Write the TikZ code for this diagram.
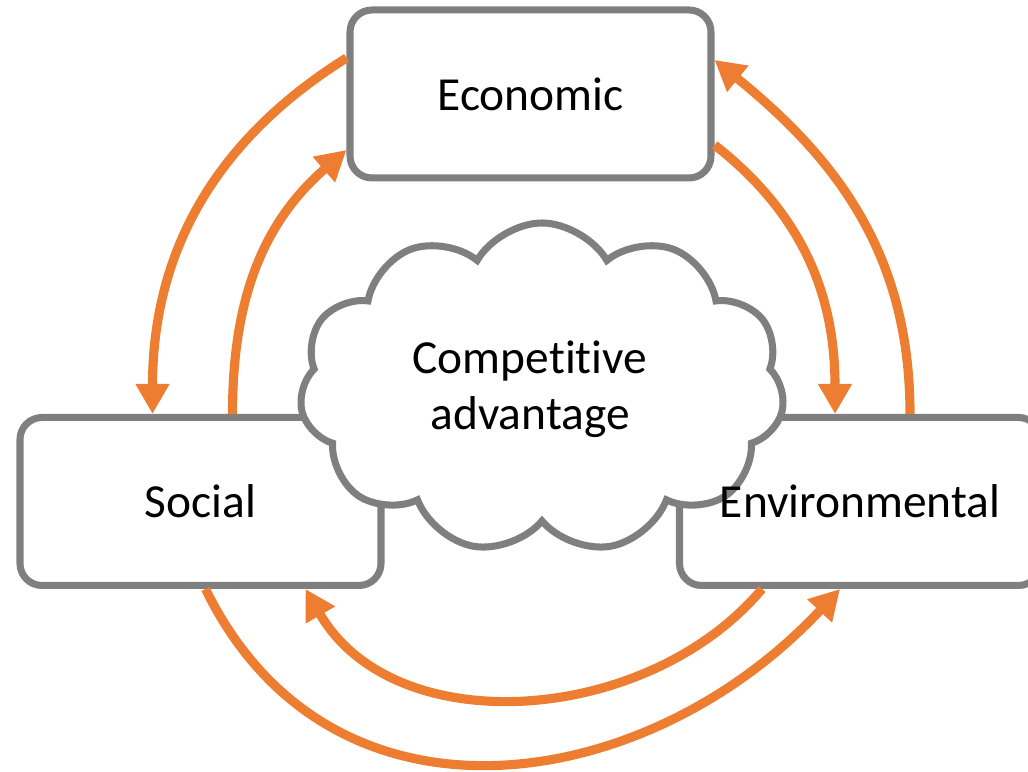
\documentclass[tikz,border=0pt]{standalone}
\usepackage{fontspec}
\setmainfont{Carlito}[Ligatures=NoCommon]
\usetikzlibrary{calc, positioning, arrows.meta, shapes.symbols}
\definecolor{pillargray}{HTML}{7F7F7F}
\definecolor{linkorange}{HTML}{ED7D31}

\begin{document}
\begin{tikzpicture}[>={Triangle[length=0.3cm, width=0.32cm]},
  pillar/.style={draw=pillargray, line width=2pt, rounded corners=0.22cm, fill=white,
    minimum width=3.61cm, minimum height=1.68cm, font=\fontsize{13.5}{16}\selectfont},
  label/.style={font=\fontsize{13.5}{16}\selectfont, align=center},
  link/.style={->, draw=linkorange, line width=2.6pt}]
  \useasboundingbox (0,0) rectangle (10.28,7.72);
  \clip (0,0) rectangle (10.28,7.72);

  % Pillars
  \node[pillar] (econ) at (5.305,6.78) {Economic};
  \node[pillar] (social) at (2.005,2.705) {Social};
  \node[pillar] (env) at (8.60,2.705) {};

  % Cloud in the middle
  \node[draw=pillargray, line width=2pt, fill=white, cloud, cloud puffs=11, cloud puff arc=120,
    cloud ignores aspect, minimum width=4.85cm, minimum height=3.3cm] (adv) at (5.42,3.84) {};
  \node[label] (advtext) at (5.30,3.83) {Competitive\\advantage};
  \node[label] (envtext) at (env) {Environmental};

  % Economic <-> Social
  \draw[link] ([yshift=0.36cm]econ.west) to[out=212, in=90] ([xshift=-0.48cm]social.north);
  \draw[link] ([xshift=0.32cm]social.north) to[out=90, in=221] ([yshift=-0.56cm]econ.west);

  % Economic <-> Environmental
  \draw[link] ([yshift=-0.51cm]econ.east) to[out=-38, in=90] ([xshift=-0.25cm]env.north);
  \draw[link] ([xshift=0.50cm]env.north) to[out=90, in=-39] ([yshift=0.34cm]econ.east);

  % Environmental <-> Social
  \draw[link] ([xshift=-0.98cm]env.south) to[out=-130, in=-60] ([xshift=1.05cm]social.south);
  \draw[link] ([xshift=0.05cm]social.south) to[out=-64, in=227, looseness=1.15] ([xshift=-0.20cm]env.south);
\end{tikzpicture}
\end{document}
